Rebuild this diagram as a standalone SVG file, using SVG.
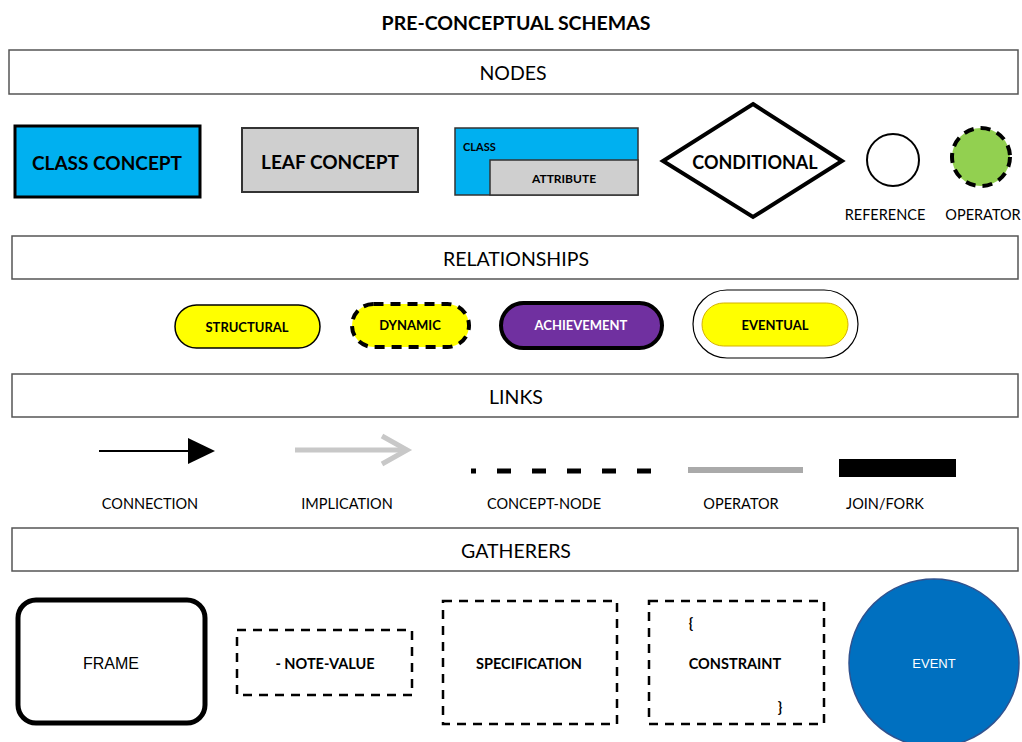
<svg xmlns="http://www.w3.org/2000/svg" width="1022" height="742" viewBox="0 0 1022 742">
<style>
text{font-family:Lato,"Open Sans","Liberation Sans",sans-serif;text-anchor:middle;dominant-baseline:central;fill:#000}
.hdr{fill:#fff;stroke:#555;stroke-width:1.5}
.ht{font-size:19.5px}
.b{font-weight:bold}
.lbl{font-size:14.5px}
.dash{fill:#fff;stroke:#000;stroke-width:2.5;stroke-dasharray:9 7}
</style>
<rect width="1022" height="742" fill="#fff"/>
<text x="516" y="22" class="b" font-size="19.5">PRE-CONCEPTUAL SCHEMAS</text>

<g id="hdr-nodes"><rect class="hdr" x="9" y="50" width="1009" height="44"/><text x="513" y="72" class="ht">NODES</text></g>
<g id="class-concept"><rect x="15" y="126" width="185" height="71" fill="#00B0F0" stroke="#000" stroke-width="3"/><text x="107" y="162" class="b" font-size="19">CLASS CONCEPT</text></g>
<g id="leaf-concept"><rect x="242" y="128" width="176" height="64" fill="#CFCFCF" stroke="#333" stroke-width="2"/><text x="330" y="161" class="b" font-size="19" fill="#222">LEAF CONCEPT</text></g>
<g id="class-attribute"><rect x="455" y="128" width="183" height="67" fill="#00B0F0" stroke="#333" stroke-width="1.5"/><rect x="490" y="160" width="148" height="35" fill="#CFCFCF" stroke="#333" stroke-width="1.5"/><text x="463" y="146" class="b" font-size="11" style="text-anchor:start">CLASS</text><text x="564" y="178" class="b" font-size="12" fill="#222">ATTRIBUTE</text></g>
<g id="conditional"><polygon points="753,104 842,161 753,217 663,161" fill="#fff" stroke="#000" stroke-width="4"/><text x="755" y="162" class="b" font-size="18">CONDITIONAL</text></g>
<g id="reference"><circle cx="893" cy="160" r="26" fill="#fff" stroke="#000" stroke-width="2"/><text x="885" y="214" class="lbl">REFERENCE</text></g>
<g id="operator"><circle cx="981" cy="157" r="29" fill="#92D050" stroke="#000" stroke-width="4" stroke-dasharray="10 7"/><text x="983" y="214" class="lbl">OPERATOR</text></g>

<g id="hdr-relationships"><rect class="hdr" x="12" y="236" width="1006" height="43"/><text x="516" y="258" class="ht">RELATIONSHIPS</text></g>
<g id="structural"><rect x="175" y="305" width="145" height="43" rx="21.5" fill="#FFFF00" stroke="#000" stroke-width="1.5"/><text x="247" y="327" class="b" font-size="13">STRUCTURAL</text></g>
<g id="dynamic"><rect x="352" y="304" width="117" height="43" rx="21.5" fill="#FFFF00" stroke="#000" stroke-width="4" stroke-dasharray="10 7"/><text x="410" y="325" class="b" font-size="13">DYNAMIC</text></g>
<g id="achievement"><rect x="501" y="303" width="161" height="45" rx="22.5" fill="#7030A0" stroke="#000" stroke-width="4"/><text x="581" y="325" class="b" font-size="13" style="fill:#fff">ACHIEVEMENT</text></g>
<g id="eventual"><rect x="693" y="290" width="165" height="68" rx="34" fill="#fff" stroke="#000" stroke-width="1.2"/><rect x="702" y="303" width="146" height="43" rx="21.5" fill="#FFFF00" stroke="#D4B000" stroke-width="1"/><text x="775" y="325" class="b" font-size="13">EVENTUAL</text></g>

<g id="hdr-links"><rect class="hdr" x="12" y="374" width="1006" height="43"/><text x="516" y="396" class="ht">LINKS</text></g>
<g id="connectors">
<g id="connection"><line x1="99" y1="451" x2="190" y2="451" stroke="#000" stroke-width="2"/><polygon points="188,438 215,451 188,464" fill="#000"/></g>
<g id="implication"><line x1="295" y1="450" x2="405" y2="450" stroke="#C8C8C8" stroke-width="5"/><polyline points="382,436 407,450 382,464" fill="none" stroke="#C8C8C8" stroke-width="5"/></g>
<g id="concept-node"><line x1="471" y1="471" x2="651" y2="471" stroke="#000" stroke-width="5" stroke-dasharray="5 21 14 21 14 21 14 21 14 21 14 100"/></g>
<g id="operator-link"><line x1="688" y1="470" x2="803" y2="470" stroke="#AAAAAA" stroke-width="6"/></g>
<g id="join-fork"><rect x="839" y="459" width="117" height="18" fill="#000"/></g>
</g>
<text x="150" y="503" class="lbl">CONNECTION</text>
<text x="347" y="503" class="lbl">IMPLICATION</text>
<text x="544" y="503" class="lbl">CONCEPT-NODE</text>
<text x="741" y="503" class="lbl">OPERATOR</text>
<text x="885" y="503" class="lbl">JOIN/FORK</text>

<g id="hdr-gatherers"><rect class="hdr" x="12" y="528" width="1006" height="43"/><text x="516" y="550" class="ht">GATHERERS</text></g>
<g id="frame"><rect x="18" y="600" width="187" height="123" rx="18" fill="#fff" stroke="#000" stroke-width="5"/><text x="111" y="663" font-size="16" style="font-family:'Liberation Sans',Arial,sans-serif">FRAME</text></g>
<g id="note-value"><rect class="dash" x="237" y="630" width="175" height="65"/><text x="325" y="663" class="b" font-size="14.5">- NOTE-VALUE</text></g>
<g id="specification"><rect class="dash" x="443" y="601" width="174" height="123"/><text x="529" y="663" class="b" font-size="14.5">SPECIFICATION</text></g>
<g id="constraint"><rect class="dash" x="649" y="601" width="175" height="123"/><text x="735" y="663" class="b" font-size="14.5">CONSTRAINT</text><text x="691" y="622" class="b" font-size="14.5">{</text><text x="780" y="706" class="b" font-size="14.5">}</text></g>
<g id="event"><ellipse cx="934" cy="663" rx="85" ry="84" fill="#0070C0" stroke="#2F528F" stroke-width="1.5"/><text x="934" y="663" font-size="13" style="fill:#fff;font-family:'Liberation Sans',Arial,sans-serif">EVENT</text></g>
</svg>
